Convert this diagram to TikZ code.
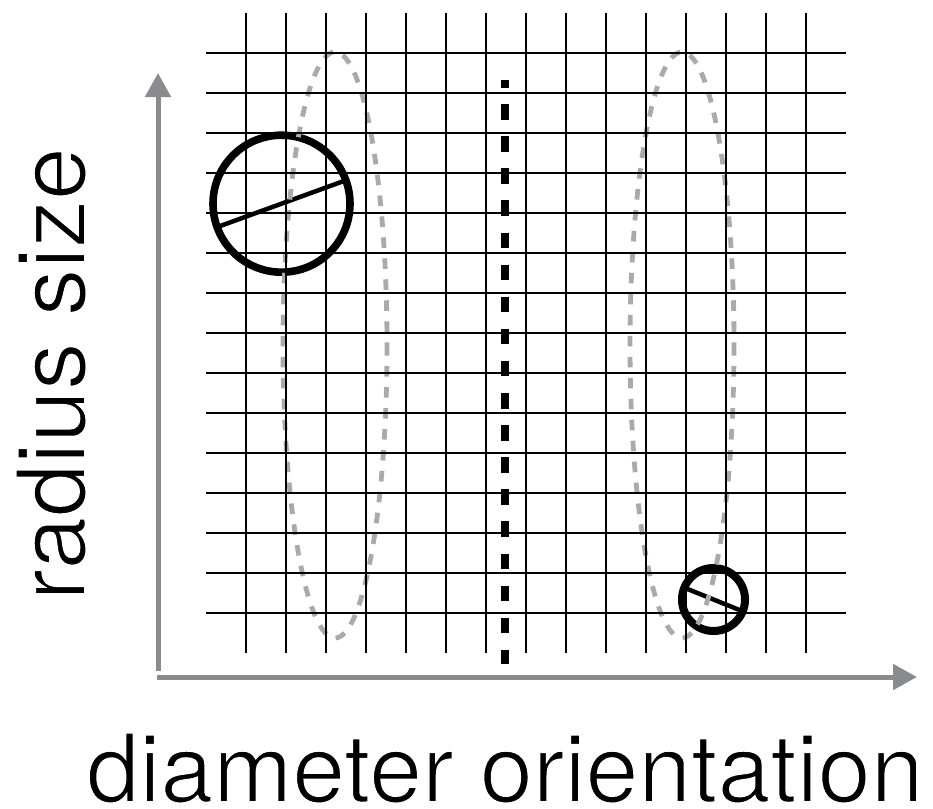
\documentclass[tikz,border=0pt]{standalone}
\usepackage{fontspec}
\setmainfont{TeX Gyre Heros}
\usetikzlibrary{arrows.meta}
\definecolor{axisgray}{HTML}{898B8E}
\definecolor{ellgray}{HTML}{A8AAAB}
% thin the glyphs a little: fill black, stroke the outline in white
\newcommand{\lighttext}[1]{\special{pdf:literal direct q 2 Tr 1 G 1.8 w}#1\special{pdf:literal direct Q}}
\begin{document}
\begin{tikzpicture}[x=1pt,y=-1pt,
  gridline/.style={line width=2.8pt,black},
  axisline/.style={line width=5pt,axisgray,-{Triangle[length=24pt,width=25pt]}},
  ring/.style={circle,draw=black,line width=7.6pt,inner sep=0pt,outer sep=0pt},
  diam/.style={line width=4.5pt,black},
  ellpath/.style={line width=4.8pt,ellgray,dash pattern=on 10.6pt off 10.4pt},
  midline/.style={line width=8pt,black,dash pattern=on 15.5pt off 16.6pt,dash phase=8pt},
  bigtext/.style={font=\fontsize{95}{100}\selectfont,inner sep=0pt,outer sep=0pt}
]
\useasboundingbox (0,0) rectangle (933,808);
% circles with diameters
\node[ring,minimum size=137pt] (big) at (281.5,203.7) {};
\draw[diam] (big.200) -- (big.20);
\node[ring,minimum size=63pt,line width=8pt] (small) at (713.5,599.5) {};
\draw[diam] (small.158) -- (small.-22);
% dashed ellipses
\draw[ellpath] (335,345) ellipse[x radius=52, y radius=293];
\draw[ellpath] (682,345) ellipse[x radius=52, y radius=293];
% grid
\foreach \k in {0,...,14}{
  \draw[gridline] (206,53+40*\k) -- (846,53+40*\k);
  \draw[gridline] (246+40*\k,13) -- (246+40*\k,653);
}
% axes
\coordinate (yfoot) at (158,671);
\coordinate (ytip) at (158,73);
\coordinate (xfoot) at (157,677);
\coordinate (xtip) at (917,677);
\draw[axisline] (yfoot) -- (ytip);
\draw[axisline] (xfoot) -- (xtip);
% central dotted line
\coordinate (mtop) at (505,80);
\coordinate (mbot) at (505,663.5);
\draw[midline] (mtop) -- (mbot);
% labels
\node[bigtext,anchor=base] (xlabel) at (505,802) {\lighttext{diameter orientation}};
\node[bigtext,anchor=base,rotate=90] (ylabel) at (85,374) {\lighttext{radius size}};
\end{tikzpicture}
\end{document}
